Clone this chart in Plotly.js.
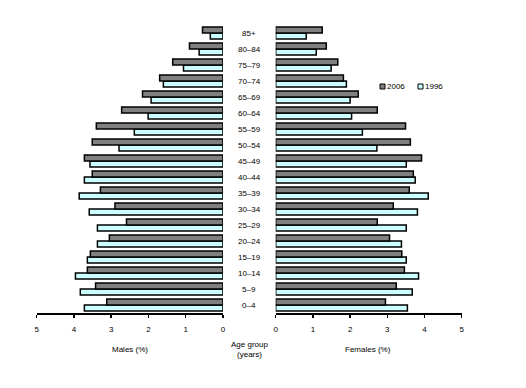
<!DOCTYPE html>
<html>
<head>
<meta charset="utf-8">
<script src="https://cdn.plot.ly/plotly-3.0.1.min.js"></script>
<style>html,body{margin:0;padding:0;background:#fff}#chart{width:526px;height:388px}</style>
</head>
<body>
<div id="chart"></div>
<script>
// Age groups, bottom to top
const ageGroups = ["0\u20134","5\u20139","10\u201314","15\u201319","20\u201324","25\u201329","30\u201334","35\u201339","40\u201344","45\u201349","50\u201354","55\u201359","60\u201364","65\u201369","70\u201374","75\u201379","80\u201384","85+"];
// Males (%)
const males2006 = [3.12,3.42,3.64,3.56,3.05,2.59,2.90,3.29,3.51,3.72,3.51,3.40,2.72,2.16,1.70,1.35,0.90,0.55];
const males1996 = [3.72,3.83,3.96,3.64,3.37,3.37,3.59,3.86,3.72,3.57,2.79,2.38,2.01,1.93,1.60,1.06,0.64,0.34];
// Females (%)
const females2006 = [2.95,3.24,3.46,3.39,3.06,2.73,3.16,3.59,3.70,3.92,3.62,3.49,2.73,2.22,1.82,1.67,1.36,1.25];
const females1996 = [3.54,3.67,3.84,3.51,3.38,3.51,3.81,4.10,3.75,3.51,2.72,2.33,2.04,2.00,1.90,1.49,1.09,0.82];
const tickVals = [0,1,2,3,4,5];
const tickText = ["0","1","2","3","4","5"];
const seriesNames = ["2006","1996"];

const C2006 = "#808080", C1996 = "#ccffff";
const line = {color:"#000", width:1.5};
const font = {family:"Liberation Sans, Arial, sans-serif", size:8, color:"#000"};

const traces = [
  {type:"bar", orientation:"h", y:ageGroups, x:males1996, xaxis:"x", yaxis:"y", name:seriesNames[1], marker:{color:C1996, line:line}},
  {type:"bar", orientation:"h", y:ageGroups, x:males2006, xaxis:"x", yaxis:"y", name:seriesNames[0], marker:{color:C2006, line:line}},
  {type:"bar", orientation:"h", y:ageGroups, x:females1996, xaxis:"x2", yaxis:"y2", name:seriesNames[1], marker:{color:C1996, line:line}},
  {type:"bar", orientation:"h", y:ageGroups, x:females2006, xaxis:"x2", yaxis:"y2", name:seriesNames[0], marker:{color:C2006, line:line}}
];

const W = 526, H = 388;
const yDom = [(H-313)/H, (H-25)/H];
const axBase = {showgrid:false, zeroline:false, showline:true, linecolor:"#000", linewidth:2,
  ticks:"outside", ticklen:3, tickwidth:1.5, tickcolor:"#000", tickvals:tickVals, ticktext:tickText,
  tickfont:font, ticklabelstandoff:4, fixedrange:true};

const annotations = ageGroups.map(g => ({
  text:g, x:249/W, xref:"paper", y:g, yref:"y", showarrow:false, font:font, xanchor:"center", yanchor:"middle"
}));
const pa = {xref:"paper", yref:"paper", showarrow:false, font:font, yanchor:"middle"};
annotations.push(
  Object.assign({text:"Males (%)", x:130/W, y:(H-349)/H, xanchor:"center"}, pa),
  Object.assign({text:"Females (%)", x:368/W, y:(H-349)/H, xanchor:"center"}, pa),
  Object.assign({text:"Age group<br>(years)", x:249/W, y:(H-349)/H, xanchor:"center", align:"center"}, pa),
  Object.assign({text:seriesNames[0], x:385/W, y:(H-86)/H, xanchor:"left"}, pa),
  Object.assign({text:seriesNames[1], x:423/W, y:(H-86)/H, xanchor:"left"}, pa)
);

const shapes = [
  {type:"rect", xref:"paper", yref:"paper", x0:380/W, x1:385/W, y0:(H-89)/H, y1:(H-84)/H, fillcolor:C2006, line:{color:"#000", width:1}},
  {type:"rect", xref:"paper", yref:"paper", x0:418/W, x1:423/W, y0:(H-89)/H, y1:(H-84)/H, fillcolor:C1996, line:{color:"#000", width:1}}
];

const layout = {
  width:W, height:H, margin:{l:0,r:0,t:0,b:0}, paper_bgcolor:"#fff", plot_bgcolor:"#fff",
  showlegend:false, barmode:"group", bargap:0.25, bargroupgap:0,
  font:font,
  xaxis:Object.assign({}, axBase, {domain:[36.7/W, 223/W], range:[5,0], anchor:"y"}),
  xaxis2:Object.assign({}, axBase, {domain:[275.7/W, 461.7/W], range:[0,5], anchor:"y2"}),
  yaxis:{domain:yDom, anchor:"x", showticklabels:false, ticks:"", showline:false, showgrid:false, zeroline:false, categoryorder:"array", categoryarray:ageGroups, fixedrange:true},
  yaxis2:{domain:yDom, anchor:"x2", showticklabels:false, ticks:"", showline:false, showgrid:false, zeroline:false, categoryorder:"array", categoryarray:ageGroups, fixedrange:true},
  annotations:annotations, shapes:shapes
};

Plotly.newPlot("chart", traces, layout, {staticPlot:true, displayModeBar:false});
</script>
</body>
</html>
